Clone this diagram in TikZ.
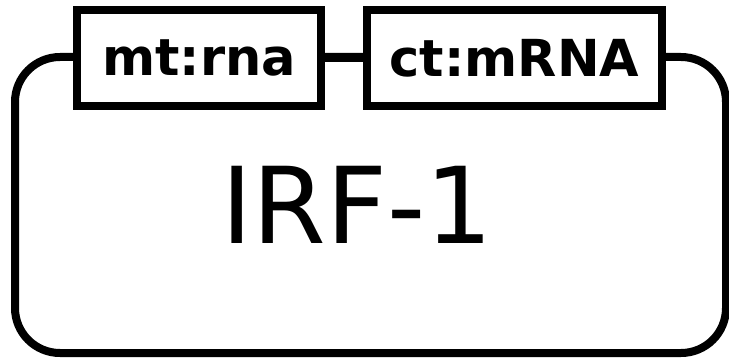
\documentclass[tikz,border=0pt]{standalone}
\usepackage{fontspec}
\setmainfont{DejaVu Sans}
\begin{document}
\begin{tikzpicture}[x=1pt,y=-1pt,
  glyph/.style={draw=black,line width=8pt,fill=white,inner sep=0pt,outer sep=0pt},
  unitbox/.style={glyph,minimum height=96pt,font=\fontsize{51}{51}\selectfont\bfseries}]
\useasboundingbox (0,0) rectangle (729,361);
\node[glyph,rounded corners=45pt,minimum width=711pt,minimum height=296pt] (body) at (370.5,205) {};
\draw[line width=8pt] (77,57) -- (662,57);
\node[unitbox,minimum width=244pt] (b1) at (199,58) {mt:rna};
\node[unitbox,minimum width=295pt] (b2) at (514.5,58) {ct:mRNA};
\draw[line width=8pt] (b1.east) -- (b2.west);
\node[font=\fontsize{106}{106}\selectfont,anchor=base,inner sep=0pt] (lbl) at (357,243) {IRF-1};
\end{tikzpicture}
\end{document}
